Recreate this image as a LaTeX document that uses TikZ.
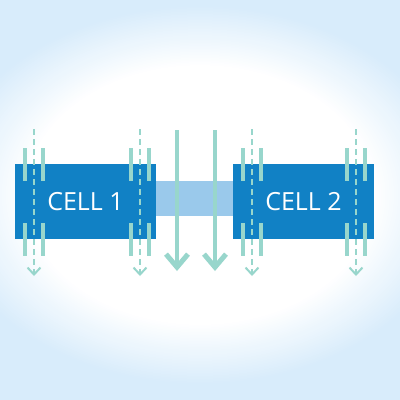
\documentclass[tikz,border=0pt]{standalone}
\usepackage{fontspec}
\setsansfont{Open Sans}
\usetikzlibrary{arrows.meta,positioning}
\definecolor{cellblue}{HTML}{1181C5}
\definecolor{bandblue}{HTML}{9AC9EB}
\definecolor{chan}{HTML}{98D6CC}
\definecolor{glow}{HTML}{D8ECFB}

\begin{document}
\begin{tikzpicture}[x=1pt,y=-1pt,>=Latex]
\tikzset{cell/.style={fill=cellblue,minimum width=141pt,minimum height=75pt,inner sep=0pt,text=white,font=\sffamily\fontsize{25}{25}\selectfont},
  band/.style={fill=bandblue,minimum width=77pt,minimum height=35pt,inner sep=0pt},
  bar/.style={draw=chan,line width=4.5pt},
  probe/.style={draw=chan,line width=2.5pt,dash pattern=on 6pt off 4pt,-{Straight Barb[length=7pt,width=13pt,line width=2pt]}},
  flow/.style={draw=chan,line width=4pt,-{Straight Barb[length=13pt,width=22pt,line width=5pt]}}}
\useasboundingbox (0,0) rectangle (400,400);
\clip (0,0) rectangle (400,400);
% soft background glow
\fill[glow] (0,0) rectangle (400,400);
\foreach \k in {0,...,40} {
  \pgfmathsetmacro\rx{260-85*\k/40}
  \pgfmathsetmacro\ry{190-60*\k/40}
  \pgfmathsetmacro\w{100*\k/40}
  \fill[white!\w!glow] (200,195) ellipse ({\rx} and {\ry});
}
% cells and the gap between them
\node[band] (gap) at (194.5,198.5) {};
\node[cell] (cell1) at (85.5,201.5) {CELL 1};
\node[cell] (cell2) at (303.5,201.5) {CELL 2};
% big arrows through the gap
\coordinate (f1-in) at (177,130);
\coordinate (f1-out) at (177,271);
\coordinate (f2-in) at (215,130);
\coordinate (f2-out) at (215,271);
\draw[flow] (f1-in) -- (f1-out);
\draw[flow] (f2-in) -- (f2-out);
% probes at the cell edges
\foreach \x [count=\i] in {34,140,252,356} {
  \coordinate (p\i-in) at (\x,129);
  \coordinate (p\i-out) at (\x,276);
  \draw[probe] (p\i-in) -- (p\i-out);
  \draw[bar] (\x-9,148) -- (\x-9,181) (\x+9,148) -- (\x+9,181);
  \draw[bar] (\x-9,223) -- (\x-9,256) (\x+9,223) -- (\x+9,256);
}
\end{tikzpicture}
\end{document}
